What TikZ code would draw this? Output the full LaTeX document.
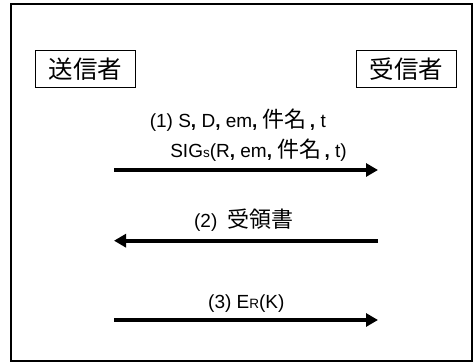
\documentclass[tikz,border=0pt]{standalone}
\usepackage{fontspec}
\setmainfont{Liberation Sans}
\newfontfamily\jp{Noto Sans CJK JP}
\usetikzlibrary{arrows.meta}
\newcommand{\J}[1]{{\fontsize{22}{22}\selectfont\jp #1}}
\newcommand{\BC}{\textbf{,}}
\newcommand{\SM}[1]{{\fontsize{13.5}{13.5}\selectfont #1}}
\begin{document}
\begin{tikzpicture}[x=1pt,y=-1pt,
  actor/.style={draw,line width=0.9pt,minimum width=100pt,minimum height=37pt,inner sep=0pt,font=\fontsize{24.5}{24.5}\selectfont\jp},
  msg/.style={line width=4pt,-{Triangle[length=12pt,width=13pt]}},
  lbl/.style={inner sep=0pt,anchor=base,font=\fontsize{19}{21}\selectfont}]
\useasboundingbox (0,0) rectangle (475,363);
\node[draw,line width=1.5pt,minimum width=461pt,minimum height=357pt,inner sep=0pt] (frame) at (241.5,182.5) {};
\node[actor] (snd) at (85.5,69.3) {送信者};
\node[actor] (rcv) at (406.7,69.3) {受信者};
\coordinate (a1s) at (114,170);
\coordinate (a1e) at (378,170);
\coordinate (a2s) at (378,240.7);
\coordinate (a2e) at (114,240.7);
\coordinate (a3s) at (114,320);
\coordinate (a3e) at (378,320);
\draw[msg] (a1s) -- (a1e);
\draw[msg] (a2s) -- (a2e);
\draw[msg] (a3s) -- (a3e);
\node[lbl] (l1a) at (237.8,128) {(1) S\BC{} D\BC{} em\BC{} \J{件名}\,\BC{} t};
\node[lbl] (l1b) at (258.5,158) {SIG\SM{s}(R\BC{} em\BC{} \J{件名}\,\BC{} t)};
\node[lbl] (l2) at (244,228) {(2)\ \ \J{受領書}};
\node[lbl] (l3) at (246.3,308.3) {(3) E\SM{R}(K)};
\end{tikzpicture}
\end{document}
